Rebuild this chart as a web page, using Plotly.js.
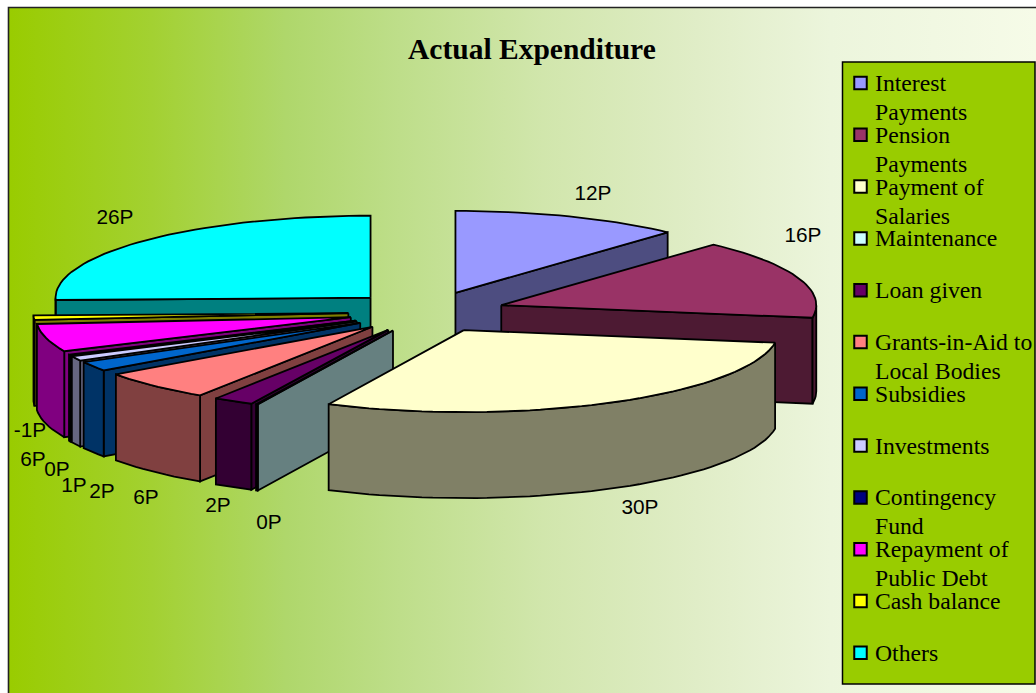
<!DOCTYPE html>
<html>
<head>
<meta charset="utf-8">
<script src="https://cdn.plot.ly/plotly-3.0.1.min.js"></script>
<style>
html,body{margin:0;padding:0;background:#fff;overflow:hidden}
#frame{position:absolute;left:0;top:0;width:1036px;height:693px;background:#fff;overflow:hidden}
#grad{position:absolute;left:9px;top:8px;width:1027px;height:685px;background:linear-gradient(90deg,#99CC00 0%,#A3D132 14%,#AFD76B 27%,#BEDE8A 38%,#D1E6AC 52%,#E0EDC7 67%,#ECF5DC 80%,#F6FBE8 100%)}
#chart{position:absolute;left:0;top:0;width:1036px;height:693px}
</style>
</head>
<body>
<div id="frame"><div id="grad"></div><div id="chart"></div></div>
<script>
const categories=["Interest Payments","Pension Payments","Payment of Salaries","Maintenance","Loan given","Grants-in-Aid to Local Bodies","Subsidies","Investments","Contingency Fund","Repayment of Public Debt","Cash balance","Others"];
const values=[12,16,30.2,0.1,2.1,6.05,1.95,0.95,0.2,5.6,-0.9,25.95];
const topColors=["#9999FF","#993366","#FFFFCC","#CCFFFF","#660066","#FF8080","#0066CC","#CCCCFF","#000080","#FF00FF","#FFFF00","#00FFFF"];
const wallColors=["#4D4D80","#4D1A33","#808066","#668080","#330033","#804040","#003366","#666680","#000040","#800080","#808000","#008080"];
const legendLines=[["Interest","Payments"],["Pension","Payments"],["Payment of","Salaries"],["Maintenance"],["Loan given"],["Grants-in-Aid to","Local Bodies"],["Subsidies"],["Investments"],["Contingency","Fund"],["Repayment of","Public Debt"],["Cash balance"],["Others"]];
const chartTitle="Actual Expenditure";

// pie projection (oblique view of an exploded 3-D pie)
const pie={cx:427,cy:312,rx:315,ry:82,depth:86,explode:0.25};
// data label anchor positions
const labelPos=[[593,195],[803,237],[640,509],[269,524],[218,507],[146,499],[102,493],[74,487],[57,471],[33,461],[30,432],[115,219]];

const total=values.reduce((a,v)=>a+Math.abs(v),0);
const rad=d=>d*Math.PI/180;
let cum=0;
const slices=values.map((v,i)=>{
  const a0=cum/total*360; cum+=Math.abs(v); const a1=cum/total*360; const mid=(a0+a1)/2;
  const cx=pie.cx+pie.explode*pie.rx*Math.sin(rad(mid));
  const cy=pie.cy-pie.explode*pie.ry*Math.cos(rad(mid));
  const pt=(a,d=0)=>[cx+pie.rx*Math.sin(rad(a)),cy-pie.ry*Math.cos(rad(a))+d];
  const low=Math.max(cy,pt(a0)[1],pt(a1)[1],(a0<180&&a1>180)?cy+pie.ry:-1e9);
  return {i,a0,a1,mid,cx,cy,pt,low};
});
const arc=(s,a,b,d=0)=>{const n=Math.max(2,Math.ceil(Math.abs(b-a)/2));const o=[];for(let k=0;k<=n;k++)o.push(s.pt(a+(b-a)*k/n,d));return o;};
const poly=(pts,color,name)=>({type:"scatter",mode:"lines",x:pts.map(p=>p[0]).concat(pts[0][0]),y:pts.map(p=>p[1]).concat(pts[0][1]),fill:"toself",fillcolor:color,line:{color:"#000",width:1.8},hoverinfo:"skip",showlegend:false,name});

const traces=[];
slices.slice().sort((a,b)=>a.low-b.low).forEach(s=>{
  const w=wallColors[s.i],c=topColors[s.i],n=categories[s.i],D=pie.depth;
  const c0=[s.cx,s.cy],c1=[s.cx,s.cy+D];
  // radial walls
  if(Math.sin(rad(s.a0))<0){traces.push(poly([c0,s.pt(s.a0),s.pt(s.a0,D),c1],w,n));}
  if(Math.sin(rad(s.a1))>0){traces.push(poly([c0,s.pt(s.a1),s.pt(s.a1,D),c1],w,n));}
  // outer rim, front half only
  const r0=Math.max(s.a0,90),r1=Math.min(s.a1,270);
  if(r1>r0){traces.push(poly(arc(s,r0,r1).concat(arc(s,r1,r0,D)),w,n));}
  // top face
  traces.push(poly([c0].concat(arc(s,s.a0,s.a1)),c,n));
});

// data labels
traces.push({type:"scatter",mode:"text",x:labelPos.map(p=>p[0]),y:labelPos.map(p=>p[1]),
  text:values.map(v=>Math.round(v)+"P"),textposition:"middle center",
  textfont:{family:"Liberation Sans, Arial, sans-serif",size:20.8,color:"#000"},hoverinfo:"skip",showlegend:false});

// legend swatches
const legendY=i=>83+i*51.8;
traces.push({type:"scatter",mode:"markers",x:categories.map(()=>860.5),y:categories.map((_,i)=>legendY(i)),
  marker:{symbol:"square",size:12.5,color:topColors,line:{color:"#000",width:2}},hoverinfo:"skip",showlegend:false});

const annotations=[{xref:"x",yref:"y",x:532,y:49,text:"<b>"+chartTitle+"</b>",showarrow:false,xanchor:"center",yanchor:"middle",
  font:{family:"Liberation Serif, Times New Roman, serif",size:29.5,color:"#000"}}];
legendLines.forEach((lines,i)=>lines.forEach((t,k)=>annotations.push({xref:"x",yref:"y",x:875,y:legendY(i)+k*29,text:t,showarrow:false,xanchor:"left",yanchor:"middle",
  xshift:-2,font:{family:"Liberation Serif, Times New Roman, serif",size:23.7,color:"#000"}})));

const layout={width:1036,height:693,margin:{l:0,r:0,t:0,b:0},paper_bgcolor:"rgba(0,0,0,0)",plot_bgcolor:"rgba(0,0,0,0)",showlegend:false,
  xaxis:{range:[0,1036],visible:false,fixedrange:true},
  yaxis:{range:[693,0],visible:false,fixedrange:true},
  annotations,
  shapes:[
   {type:"rect",layer:"below",xref:"x",yref:"y",x0:8.5,y0:7.5,x1:1060,y1:720,line:{color:"#222",width:1.6}},
   {type:"rect",layer:"below",xref:"x",yref:"y",x0:842.5,y0:62,x1:1035,y1:684,fillcolor:"#99CC00",line:{color:"#000",width:1.5}}
  ]};
Plotly.newPlot("chart",traces,layout,{displayModeBar:false,staticPlot:true});
</script>
</body>
</html>
